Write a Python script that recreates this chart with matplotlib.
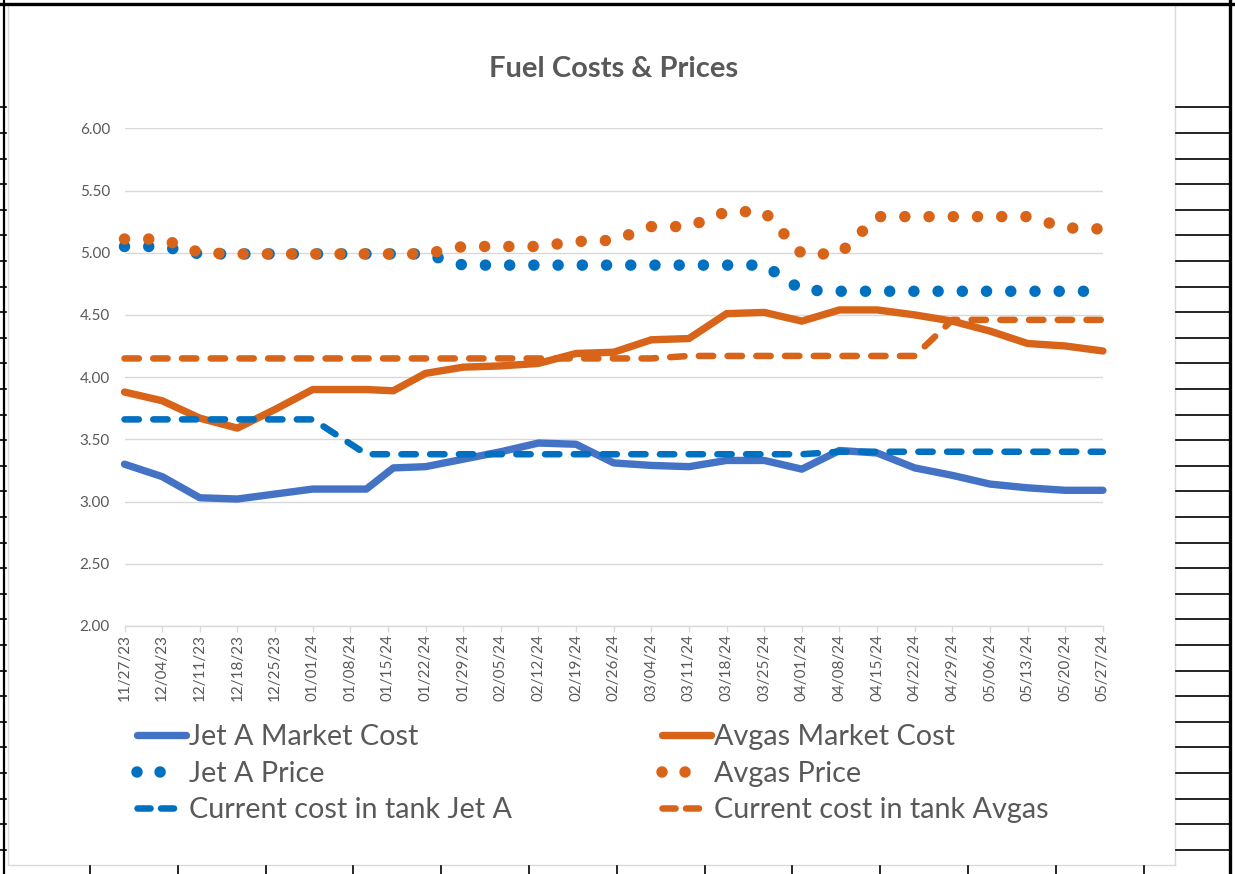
import matplotlib
matplotlib.use("Agg")
import matplotlib.pyplot as plt
import matplotlib.dates as mdates
from matplotlib.lines import Line2D
import pandas as pd

plt.rcParams['font.family'] = ['Lato', 'DejaVu Sans']

# weekly readings (two January points fall off the Monday grid)
dates = ['2023-11-27', '2023-12-04', '2023-12-11', '2023-12-18', '2023-12-25',
         '2024-01-01', '2024-01-11', '2024-01-16', '2024-01-22', '2024-01-29',
         '2024-02-05', '2024-02-12', '2024-02-19', '2024-02-26', '2024-03-04',
         '2024-03-11', '2024-03-18', '2024-03-25', '2024-04-01', '2024-04-08',
         '2024-04-15', '2024-04-22', '2024-04-29', '2024-05-06', '2024-05-13',
         '2024-05-20', '2024-05-27']

jet_cost = [3.30, 3.20, 3.03, 3.02, 3.06, 3.10, 3.10, 3.27, 3.28, 3.34,
            3.40, 3.47, 3.46, 3.31, 3.29, 3.28, 3.33, 3.33, 3.26, 3.41,
            3.39, 3.27, 3.21, 3.14, 3.11, 3.09, 3.09]
avgas_cost = [3.88, 3.81, 3.67, 3.59, 3.74, 3.90, 3.90, 3.89, 4.03, 4.08,
              4.09, 4.11, 4.19, 4.20, 4.30, 4.31, 4.51, 4.52, 4.45, 4.54,
              4.54, 4.50, 4.45, 4.37, 4.27, 4.25, 4.21]
jet_price = [5.05, 5.05, 4.99, 4.99, 4.99, 4.99, 4.99, 4.99, 4.99, 4.90,
             4.90, 4.90, 4.90, 4.90, 4.90, 4.90, 4.90, 4.90, 4.70, 4.69,
             4.69, 4.69, 4.69, 4.69, 4.69, 4.69, 4.69]
avgas_price = [5.11, 5.11, 5.00, 4.99, 4.99, 4.99, 4.99, 4.99, 4.99, 5.05,
               5.05, 5.05, 5.09, 5.10, 5.21, 5.21, 5.33, 5.33, 4.99, 4.99,
               5.29, 5.29, 5.29, 5.29, 5.29, 5.20, 5.19]
jet_tank = [3.66, 3.66, 3.66, 3.66, 3.66, 3.66, 3.38, 3.38, 3.38, 3.38,
            3.38, 3.38, 3.38, 3.38, 3.38, 3.38, 3.38, 3.38, 3.38, 3.40,
            3.40, 3.40, 3.40, 3.40, 3.40, 3.40, 3.40]
avgas_tank = [4.15, 4.15, 4.15, 4.15, 4.15, 4.15, 4.15, 4.15, 4.15, 4.15,
              4.15, 4.15, 4.15, 4.15, 4.15, 4.17, 4.17, 4.17, 4.17, 4.17,
              4.17, 4.17, 4.46, 4.46, 4.46, 4.46, 4.46]

labels = ['Jet A Market Cost', 'Avgas Market Cost', 'Jet A Price',
          'Avgas Price', 'Current cost in tank Jet A', 'Current cost in tank Avgas']
tick_dates = pd.date_range('2023-11-27', '2024-05-27', freq='7D')
y_ticks = [2.0, 2.5, 3.0, 3.5, 4.0, 4.5, 5.0, 5.5, 6.0]

x = pd.to_datetime(dates)

W, H = 1235, 874
def px(xp, yp):
    return xp / W, 1 - yp / H

BLUE_L = '#4472C4'
BLUE = '#0070C0'
ORANGE = '#D76418'
GREY = '#595959'
GRID = '#D9D9D9'

fig = plt.figure(figsize=(W / 100, H / 100), dpi=100)
ax = fig.add_axes([124.5 / W, 1 - 625.9 / H, (1102.9 - 124.5) / W, (625.9 - 128.3) / H])

dots = (0, (0.001, 2.1))
dash = (0, (2.2, 2.2))
common = dict(solid_capstyle='round', dash_capstyle='round',
              solid_joinstyle='round', dash_joinstyle='round', clip_on=False)

l1, = ax.plot(x, jet_cost, color=BLUE_L, lw=5.3, **common)
l2, = ax.plot(x, avgas_cost, color=ORANGE, lw=5.3, **common)
l3, = ax.plot(x, jet_price, color=BLUE, lw=8.3, ls=dots, **common)
l4, = ax.plot(x, avgas_price, color=ORANGE, lw=8.3, ls=dots, **common)
l5, = ax.plot(x, jet_tank, color=BLUE, lw=4.7, ls=dash, **common)
l6, = ax.plot(x, avgas_tank, color=ORANGE, lw=4.7, ls=dash, **common)

ax.set_xlim(tick_dates[0], tick_dates[-1])
ax.set_ylim(2, 6)
ax.set_xticks(tick_dates)
ax.xaxis.set_major_formatter(mdates.DateFormatter('%m/%d/%y'))
ax.set_yticks(y_ticks)
ax.set_yticklabels(['%.2f' % v for v in y_ticks])
ax.tick_params(axis='x', rotation=90, labelsize=11, colors=GREY, length=4,
               width=1, pad=1.5)
ax.tick_params(axis='x', color=GRID)
ax.tick_params(axis='y', labelsize=11, labelcolor=GREY, length=0, pad=10.5)
ax.grid(axis='y', color=GRID, lw=1)
ax.set_axisbelow(True)
for s in ['top', 'right', 'left']:
    ax.spines[s].set_visible(False)
ax.spines['bottom'].set_color(GRID)
ax.spines['bottom'].set_linewidth(1)

fig.text(*px(613.7, 69), 'Fuel Costs & Prices', ha='center', va='center',
         fontsize=21, fontweight='bold', color=GREY)

# legend keys: Excel shows two dots / two dashes in each key
def key(color, lw, ls='-'):
    return Line2D([], [], color=color, lw=lw, ls=ls, solid_capstyle='round',
                  dash_capstyle='round')

key_dots = (0, (0.001, 2.0, 0.001, 12))
key_dash = (0, (2.0, 1.6, 2.0, 12))
left_keys = [key(BLUE_L, 5.3), key(BLUE, 8.3, key_dots), key(BLUE, 4.7, key_dash)]
right_keys = [key(ORANGE, 5.3), key(ORANGE, 8.3, key_dots), key(ORANGE, 4.7, key_dash)]

leg_kw = dict(loc='upper left', frameon=False, fontsize=20.7, handlelength=1.72,
              handletextpad=0.1, labelspacing=0.37, borderpad=0, borderaxespad=0,
              labelcolor=GREY)
fig.legend(left_keys, [labels[0], labels[2], labels[4]],
           bbox_to_anchor=px(137, 724), **leg_kw)
fig.legend(right_keys, [labels[1], labels[3], labels[5]],
           bbox_to_anchor=px(662, 724), **leg_kw)

# spreadsheet cells around the chart object
def seg(x0, y0, x1, y1, color='black', lw=1.0):
    fig.add_artist(Line2D([x0 / W, x1 / W], [1 - y0 / H, 1 - y1 / H],
                          transform=fig.transFigure, color=color, lw=lw))

seg(7.5, 5, 7.5, 865, GRID, 1)
seg(1175, 5, 1175, 865, GRID, 1)
seg(7.5, 865, 1175, 865, GRID, 1)
seg(0, 4, W, 4, 'black', 2.4)
seg(3.5, 0, 3.5, H, 'black', 1.6)
seg(1230, 0, 1230, H, 'black', 2.4)
yy = 107.3
while yy < H:
    seg(0, yy, 6, yy, 'black', 1.2)
    seg(1176, yy, 1229, yy, 'black', 1.2)
    yy += 25.6
xx = 90
while xx < 1175:
    seg(xx, 866, xx, H, 'black', 1.2)
    xx += 87.8

fig.savefig('out.png', dpi=100)
